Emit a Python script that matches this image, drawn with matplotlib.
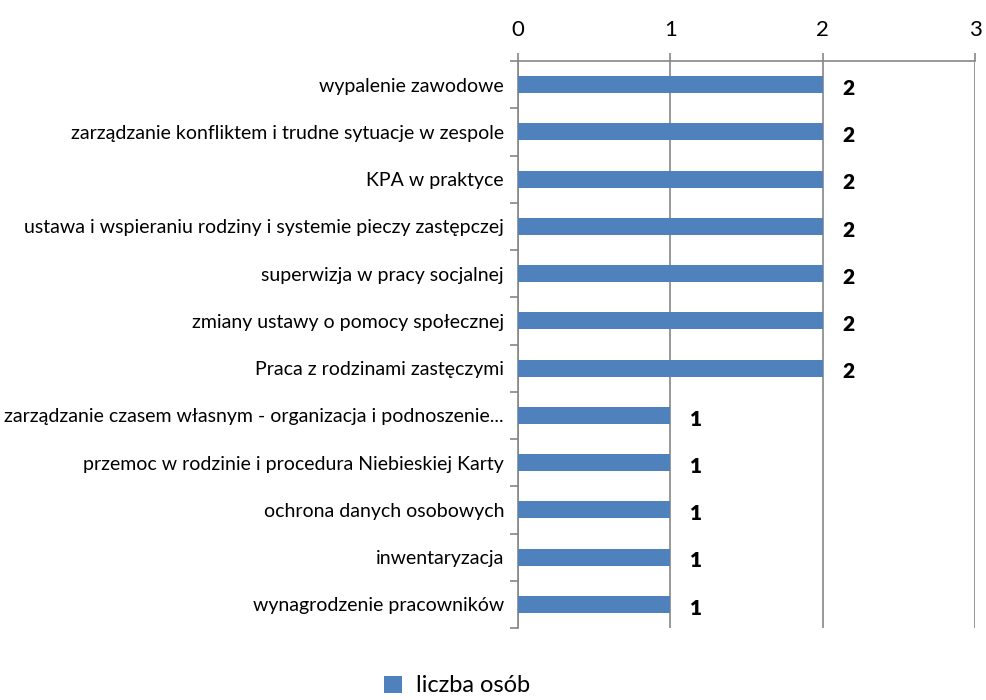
import matplotlib
matplotlib.use("Agg")
import matplotlib.pyplot as plt
from matplotlib.patches import Patch

categories = [
    "wypalenie zawodowe",
    "zarządzanie konfliktem i trudne sytuacje w zespole",
    "KPA w praktyce",
    "ustawa i wspieraniu rodziny i systemie pieczy zastępczej",
    "superwizja w pracy socjalnej",
    "zmiany ustawy o pomocy społecznej",
    "Praca z rodzinami zastęczymi",
    "zarządzanie czasem własnym - organizacja i podnoszenie...",
    "przemoc w rodzinie i procedura Niebieskiej Karty",
    "ochrona danych osobowych",
    "inwentaryzacja",
    "wynagrodzenie pracowników",
]
values = [2, 2, 2, 2, 2, 2, 2, 1, 1, 1, 1, 1]
x_ticks = [0, 1, 2, 3]
series_name = "liczba osób"

plt.rcParams['font.family'] = ['Lato', 'DejaVu Sans']
bar_color = "#4F81BD"
grid_color = "#868686"

fig = plt.figure(figsize=(9.87, 7.0), dpi=100)
ax = fig.add_axes([518/987, 1 - 628/700, (975-518)/987, (628-61)/700])

n = len(categories)
ypos = list(range(n))
ax.barh(ypos, values, height=0.36, color=bar_color, zorder=3)
ax.set_ylim(n - 0.5, -0.5)
ax.set_xlim(0, 3)
ax.set_xticks(x_ticks)
ax.xaxis.tick_top()
ax.tick_params(axis='x', which='both', length=6, color=grid_color, width=1.2,
               labelsize=16, pad=9)
ax.set_yticks(ypos)
ax.set_yticklabels(categories, fontsize=14)
ax.tick_params(axis='y', which='major', length=0, pad=10)
ax.set_yticks([i - 0.5 for i in range(n + 1)], minor=True)
ax.tick_params(axis='y', which='minor', length=6, color=grid_color, width=1.2)
ax.grid(axis='x', color=grid_color, linewidth=1.2, zorder=0)

for side in ['right', 'bottom']:
    ax.spines[side].set_visible(False)
for side in ['top', 'left']:
    ax.spines[side].set_color(grid_color)
    ax.spines[side].set_linewidth(1.2)

for y, v in zip(ypos, values):
    ax.text(v + 0.13, y + 0.08, str(v), va='center', ha='left',
            fontsize=15, fontweight='heavy')

fig.legend(handles=[Patch(facecolor=bar_color, label=series_name)],
           loc='center', bbox_to_anchor=(457/987, 1 - 686/700), frameon=False,
           fontsize=17, handlelength=0.75, handleheight=0.75, handletextpad=0.6)

fig.savefig("out.png", dpi=100)
